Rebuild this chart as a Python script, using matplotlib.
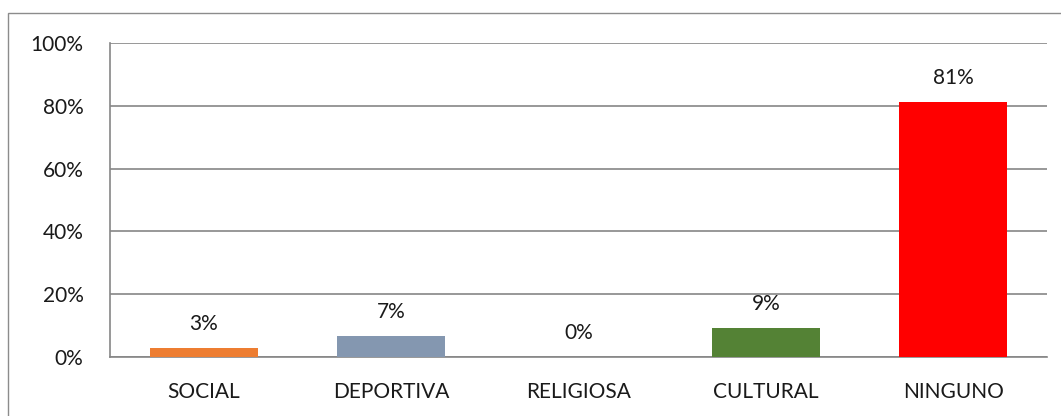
import matplotlib.pyplot as plt
from matplotlib.patches import Rectangle
from matplotlib.ticker import PercentFormatter

categories = ["SOCIAL", "DEPORTIVA", "RELIGIOSA", "CULTURAL", "NINGUNO"]
values = [2.9, 6.7, 0.0, 9.3, 81.2]
colors = ["#ED7D31", "#8497B0", "#A5A5A5", "#548235", "#FF0000"]

plt.rcParams['font.family'] = ['Lato', 'DejaVu Sans']

fig = plt.figure(figsize=(10.61, 4.16), dpi=100)
ax = fig.add_axes([110 / 1061, 1 - 357 / 416, 937 / 1061, 314 / 416])

x = range(len(categories))
ax.bar(x, values, width=0.576, color=colors, zorder=3)

for xi, v in zip(x, values):
    ax.annotate(f"{v:.0f}%", (xi, v), xytext=(0, 13), textcoords="offset points",
                ha="center", va="baseline", fontsize=15, color="#1a1a1a")

ax.set_xlim(-0.5, len(categories) - 0.5)
ax.set_ylim(0, 100)
ax.set_yticks(range(0, 101, 20))
ax.yaxis.set_major_formatter(PercentFormatter(decimals=0))
ax.set_xticks(list(x))
ax.set_xticklabels(categories)
ax.tick_params(axis="both", length=0, labelsize=15, labelcolor="#1a1a1a")
ax.tick_params(axis="y", pad=19)
ax.tick_params(axis="x", pad=18)
ax.grid(axis="y", color="#868686", linewidth=1.2, zorder=0)

for side in ["top", "right"]:
    ax.spines[side].set_visible(False)
ax.spines["left"].set_color("#868686")
ax.spines["bottom"].set_color("#868686")
ax.spines["left"].set_linewidth(1.2)
ax.spines["bottom"].set_linewidth(1.2)

# outer chart border (only left and top edges fall inside the image)
fig.patches.append(Rectangle((8 / 1061, -0.05), 1.1, 1.05 - 13 / 416,
                             transform=fig.transFigure, fill=False,
                             edgecolor="#8C8C8C", linewidth=1))

fig.savefig("out.png", dpi=100)
